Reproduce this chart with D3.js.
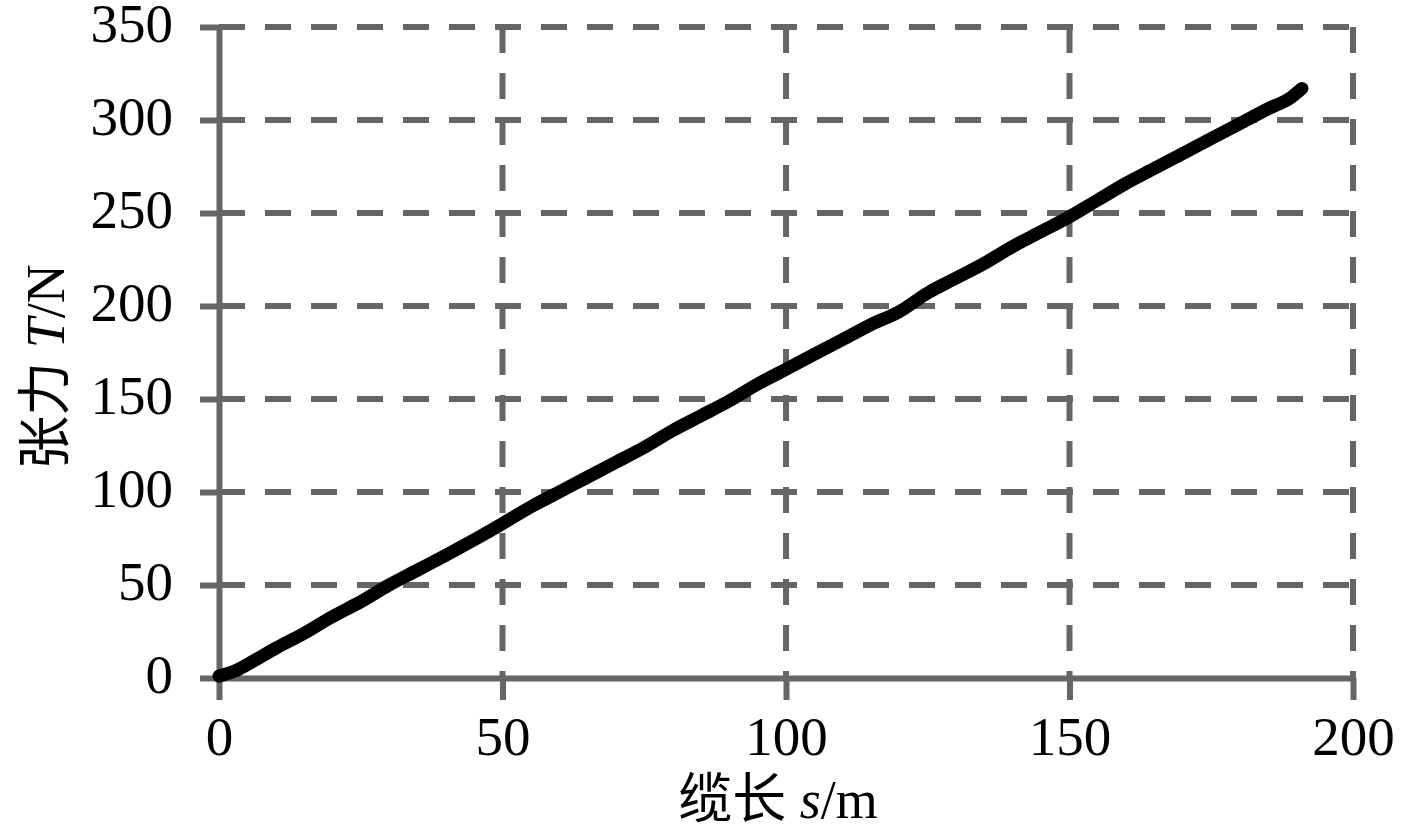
<!DOCTYPE html>
<html>
<head>
<meta charset="utf-8">
<script src="https://cdn.jsdelivr.net/npm/d3@7"></script>
<style>
  body { margin: 0; background: #fff; }
  svg { display: block; }
  .tick text { font-family: "Liberation Serif", "Times New Roman", serif; fill: #000; }
  .axisTitle { font-family: "Liberation Serif", "Noto Sans CJK SC", serif; fill: #000; }
</style>
</head>
<body>
<div id="chart"></div>
<script>
// cable length s (m) vs tension T (N)
var cableLength = [0, 3, 6, 10, 15, 20, 25, 30, 35, 40, 46, 50, 55, 60, 65, 70, 75, 80, 85,
    90, 95, 100, 105, 110, 115, 120, 125, 130, 135, 140, 145, 150, 155, 160, 165,
    170, 175, 180, 185, 189, 191];
var tension = [1, 4, 9, 16, 24, 33, 41, 50, 58, 66, 76, 83, 92, 100, 108, 116, 124, 133, 141,
    149, 158, 166, 174, 182, 190, 197, 207, 215, 223, 232, 240, 248, 257, 266, 274,
    282, 290, 298, 306, 312, 317];

var xTicks = [0, 50, 100, 150, 200];
var yTicks = [0, 50, 100, 150, 200, 250, 300, 350];

var svgWidth = 1417;
var svgHeight = 832;

var margin = { top: 27, right: 64, bottom: 154, left: 219 };
var width = svgWidth - margin.left - margin.right;
var height = svgHeight - margin.top - margin.bottom;

var gridColor = "#666666";

var svg = d3.select("#chart")
    .append("svg")
    .attr("width", svgWidth)
    .attr("height", svgHeight);

var chartGroup = svg.append("g")
    .attr("transform", `translate(${margin.left}, ${margin.top})`);

var xScale = d3.scaleLinear().domain([0, 200]).range([0, width]);
var yScale = d3.scaleLinear().domain([0, 350]).range([height, 0]);

// dashed grid
chartGroup.append("g")
    .selectAll("line")
    .data(yTicks.filter(function (d) { return d > 0; }))
    .enter().append("line")
    .attr("x1", 0)
    .attr("x2", width)
    .attr("y1", function (d) { return yScale(d); })
    .attr("y2", function (d) { return yScale(d); })
    .attr("stroke", gridColor)
    .attr("stroke-width", 6)
    .attr("stroke-dasharray", "26,20");

chartGroup.append("g")
    .selectAll("line")
    .data(xTicks.filter(function (d) { return d > 0; }))
    .enter().append("line")
    .attr("y1", 0)
    .attr("y2", height)
    .attr("x1", function (d) { return xScale(d); })
    .attr("x2", function (d) { return xScale(d); })
    .attr("stroke", gridColor)
    .attr("stroke-width", 6)
    .attr("stroke-dasharray", "26,20");

// axes
var leftAxis = d3.axisLeft(yScale)
    .tickValues(yTicks)
    .tickSize(19)
    .tickSizeOuter(0)
    .tickPadding(27);

var bottomAxis = d3.axisBottom(xScale)
    .tickValues(xTicks)
    .tickSize(22)
    .tickSizeOuter(0)
    .tickPadding(16);

var yAxisG = chartGroup.append("g").call(leftAxis);
var xAxisG = chartGroup.append("g")
    .attr("transform", `translate(0, ${height})`)
    .call(bottomAxis);

[yAxisG, xAxisG].forEach(function (g) {
    g.select(".domain").attr("stroke", gridColor).attr("stroke-width", 6);
    g.selectAll(".tick line").attr("stroke", gridColor).attr("stroke-width", 6);
    g.selectAll(".tick text").style("font-size", "55px");
});
yAxisG.selectAll(".tick text").attr("dy", "0.27em");

// the curve
var line = d3.line()
    .x(function (d) { return xScale(d[0]); })
    .y(function (d) { return yScale(d[1]); })
    .curve(d3.curveMonotoneX);

chartGroup.append("path")
    .datum(d3.zip(cableLength, tension))
    .attr("d", line)
    .attr("fill", "none")
    .attr("stroke", "#000")
    .attr("stroke-width", 13)
    .attr("stroke-linecap", "round")
    .attr("stroke-linejoin", "round");

// axis titles
var xTitle = svg.append("text")
    .attr("class", "axisTitle")
    .attr("x", 778)
    .attr("y", 818)
    .style("text-anchor", "middle")
    .style("font-size", "54px");
xTitle.append("tspan").text("缆长 ");
xTitle.append("tspan").style("font-style", "italic").text("s");
xTitle.append("tspan").text("/m");

var yTitle = svg.append("text")
    .attr("class", "axisTitle")
    .attr("transform", "translate(64, 367) rotate(-90)")
    .style("text-anchor", "middle")
    .style("font-size", "54px");
yTitle.append("tspan").text("张力 ");
yTitle.append("tspan").style("font-style", "italic").text("T");
yTitle.append("tspan").text("/N");
</script>
</body>
</html>
